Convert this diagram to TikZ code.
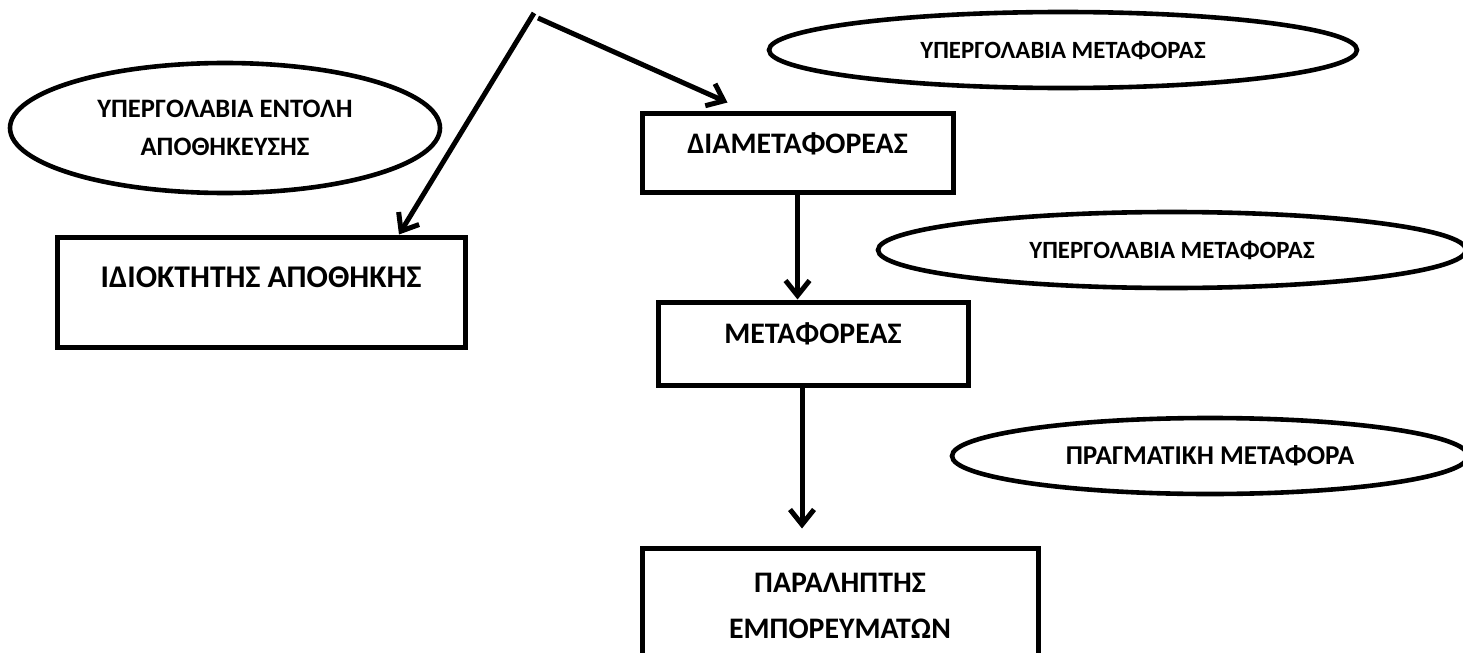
\documentclass[tikz,border=0pt]{standalone}
\usepackage{fontspec}
\setmainfont{Carlito}
\usetikzlibrary{arrows.meta,shapes.geometric,calc}
\begin{document}
\begin{tikzpicture}[x=0.5pt,y=-0.5pt,
  box/.style={draw,line width=2.5pt,rectangle,inner sep=0pt,
    font=\fontsize{14.9}{23}\selectfont\bfseries,align=center},
  oval/.style={draw,line width=2.3pt,ellipse,inner sep=0pt,
    font=\fontsize{12.4}{19}\selectfont\bfseries,align=center},
  arr/.style={line width=2.5pt,
    -{Straight Barb[length=7.5pt,width=12pt,line width=2.5pt]}}]
\useasboundingbox (0,0) rectangle (1463,653);

% subcontracting ovals
\node[oval,minimum width=215pt,minimum height=65pt,
  font=\fontsize{13.3}{19}\selectfont\bfseries] (subStore) at (225,128)
  {ΥΠΕΡΓΟΛΑΒΙΑ ΕΝΤΟΛΗ\\ΑΠΟΘΗΚΕΥΣΗΣ};
\node[oval,minimum width=294pt,minimum height=38pt] (subTop) at (1063,50)
  {ΥΠΕΡΓΟΛΑΒΙΑ ΜΕΤΑΦΟΡΑΣ};
\node[oval,minimum width=294pt,minimum height=38pt] (subMid) at (1172,250)
  {ΥΠΕΡΓΟΛΑΒΙΑ ΜΕΤΑΦΟΡΑΣ};
\node[oval,minimum width=258pt,minimum height=38pt,
  font=\fontsize{13.6}{19}\selectfont\bfseries] (actual) at (1210,456)
  {ΠΡΑΓΜΑΤΙΚΗ ΜΕΤΑΦΟΡΑ};

% parties
\node[box,minimum width=204pt,minimum height=55pt,text height=9.6pt,text depth=14pt,
  font=\fontsize{15.8}{23}\selectfont\bfseries]
  (idio) at (261,292) {ΙΔΙΟΚΤΗΤΗΣ ΑΠΟΘΗΚΗΣ};
\node[box,minimum width=155.5pt,minimum height=39.5pt,text height=9.4pt,text depth=8.5pt]
  (diam) at (797.5,152.5) {ΔΙΑΜΕΤΑΦΟΡΕΑΣ};
\node[box,minimum width=155pt,minimum height=41.5pt,text height=9.4pt,text depth=9.5pt]
  (meta) at (813,343.5) {ΜΕΤΑΦΟΡΕΑΣ};
\node[box,minimum width=198pt,minimum height=58pt]
  (para) at (840,606) {ΠΑΡΑΛΗΠΤΗΣ\\ΕΜΠΟΡΕΥΜΑΤΩΝ};

% connectors
\coordinate (apex) at (534,13);
\draw[arr] (apex) -- ($(idio.north)+(138,0)$);
\draw[arr] ($(apex)+(4,5)$) -- ($(diam.north west)+(88,-8)$);
\draw[arr] (diam.south) -- (diam.south |- meta.north);
\coordinate (mt) at ($(meta.south)+(-11,0)$);
\draw[arr,shorten >=8.5pt] (mt) -- (mt |- para.north);
\end{tikzpicture}
\end{document}
